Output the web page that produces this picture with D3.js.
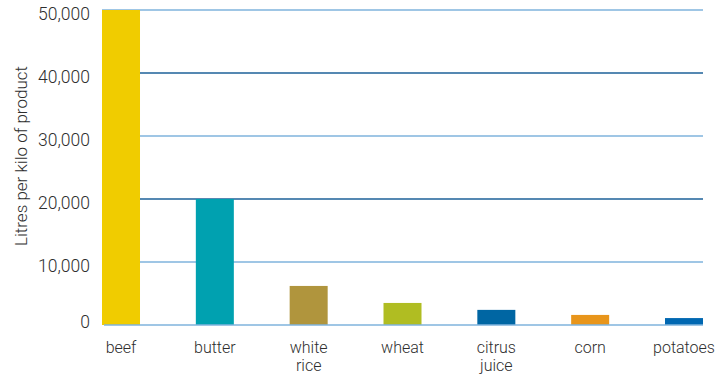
<!DOCTYPE html>
<html>
<head>
<meta charset="utf-8">
<script src="https://cdn.jsdelivr.net/npm/d3@7"></script>
<style>
  body { margin: 0; background: #fff; }
  text { font-family: Roboto, "Liberation Sans", sans-serif; font-weight: 300; fill: #2e2e2e; }
</style>
</head>
<body>
<div id="chart"></div>
<script>
const svgWidth = 717;
const svgHeight = 376;

const products = ['beef', 'butter', 'white rice', 'wheat', 'citrus juice', 'corn', 'potatoes'];
const litresPerKilo = [50000, 20000, 6200, 3500, 2400, 1600, 1100];
const barColors = ['#f0cc00', '#00a1b0', '#b0953d', '#b0bd22', '#0066a3', '#e8951b', '#0067b1'];
const tickValues = [0, 10000, 20000, 30000, 40000, 50000];
const gridColors = ['#7fb3dc', '#7fb3dc', '#1d6198', '#7fb3dc', '#1d6198', '#7fb3dc'];

const svg = d3.select('#chart')
    .append('svg')
    .attr('width', svgWidth)
    .attr('height', svgHeight);

const x = d3.scaleBand()
    .domain(products)
    .range([102, 703])
    .paddingInner(0.595)
    .paddingOuter(0);

const y = d3.scaleLinear()
    .domain([0, 50000])
    .range([325, 10]);

// grid lines (0 is the baseline, drawn after the bars)
svg.append('g').selectAll('line')
    .data(tickValues.filter(d => d > 0))
    .join('line')
    .attr('x1', 102)
    .attr('x2', 703)
    .attr('y1', d => y(d))
    .attr('y2', d => y(d))
    .attr('stroke', d => gridColors[tickValues.indexOf(d)])
    .attr('stroke-width', 1.3);

svg.append('g').selectAll('rect')
    .data(products)
    .join('rect')
    .attr('x', d => x(d))
    .attr('width', x.bandwidth())
    .attr('y', (d, i) => y(litresPerKilo[i]))
    .attr('height', (d, i) => y(0) - y(litresPerKilo[i]))
    .attr('fill', (d, i) => barColors[i]);

svg.append('line')
    .attr('x1', 104)
    .attr('x2', 703)
    .attr('y1', y(0))
    .attr('y2', y(0))
    .attr('stroke', gridColors[0])
    .attr('stroke-width', 1.3);

// y tick labels
svg.append('g').selectAll('text')
    .data(tickValues)
    .join('text')
    .attr('x', 90)
    .attr('y', d => y(d) + (d === 0 ? -3 : 4))
    .attr('dy', '0.35em')
    .attr('text-anchor', 'end')
    .style('font-size', '17.5px')
    .text(d => d3.format(',')(d));

svg.append('text')
    .attr('transform', 'translate(27,156) rotate(-90)')
    .attr('text-anchor', 'middle')
    .style('font-size', '17px')
    .text('Litres per kilo of product');

// x labels, split over two lines
const xLabels = svg.append('g').selectAll('text')
    .data(products)
    .join('text')
    .attr('x', d => x(d) + x.bandwidth() / 2)
    .attr('y', 353)
    .attr('text-anchor', 'middle')
    .style('font-size', '16px');

xLabels.selectAll('tspan')
    .data(d => d.split(' '))
    .join('tspan')
    .attr('x', function() { return d3.select(this.parentNode).attr('x'); })
    .attr('dy', (d, i) => i === 0 ? 0 : 18)
    .text(d => d);
</script>
</body>
</html>
